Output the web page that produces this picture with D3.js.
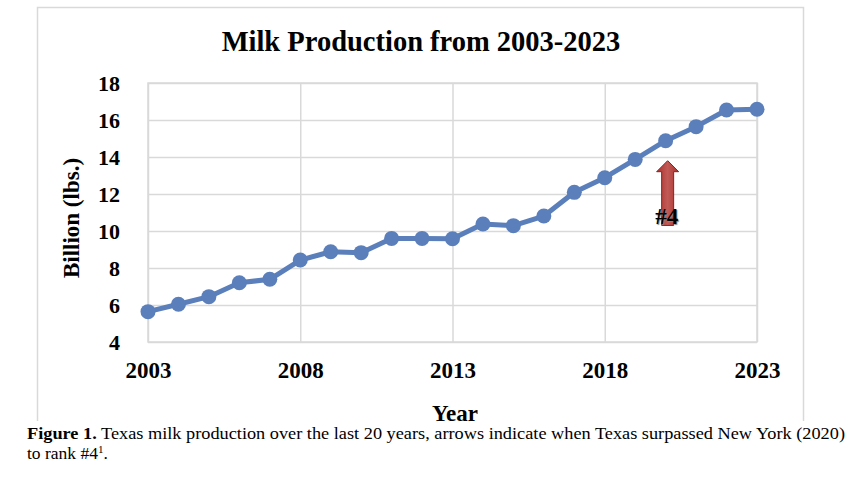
<!DOCTYPE html>
<html>
<head>
<meta charset="utf-8">
<title>Milk Production from 2003-2023</title>
<script src="https://d3js.org/d3.v7.min.js"></script>
<style>
  body { margin: 0; background: #fff; }
  svg { display: block; font-family: "Liberation Serif", "Times New Roman", serif; }
</style>
</head>
<body>
<div id="chart"></div>
<script>
// data (billion lbs)
var years = [2003, 2004, 2005, 2006, 2007, 2008, 2009, 2010, 2011, 2012, 2013,
             2014, 2015, 2016, 2017, 2018, 2019, 2020, 2021, 2022, 2023];
var production = [5.64, 6.04, 6.45, 7.2, 7.39, 8.43, 8.88, 8.83, 9.6, 9.6, 9.58,
                  10.38, 10.29, 10.81, 12.09, 12.88, 13.87, 14.88, 15.64, 16.54, 16.58];
var xTicks = [2003, 2008, 2013, 2018, 2023];
var yTicks = [4, 6, 8, 10, 12, 14, 16, 18];

// arrow annotation: year and its span in billion lbs
var arrowYear = 2020;
var arrowSpan = [13.8, 10.3];
var arrowLabel = "#4";

var size = {width: 864, height: 478};
var plot = {left: 148, right: 757, top: 83, bottom: 342};

var svg = d3.select("#chart").append("svg")
    .attr("width", size.width)
    .attr("height", size.height);

// outer chart frame
svg.append("rect")
    .attr("x", 37.5).attr("y", 7.5)
    .attr("width", 766).attr("height", 430)
    .attr("fill", "#fff")
    .attr("stroke", "#d9d9d9")
    .attr("stroke-width", 1.5);

var x = d3.scaleLinear().domain([2003, 2023]).range([plot.left, plot.right]);
var y = d3.scaleLinear().domain([4, 18]).range([plot.bottom, plot.top]);

// grid lines
svg.append("g")
    .attr("transform", "translate(0," + plot.bottom + ")")
    .call(d3.axisBottom(x).tickValues(xTicks).tickSize(-(plot.bottom - plot.top)).tickFormat(""))
    .call(g => g.select(".domain").remove())
    .selectAll("line").attr("stroke", "#d9d9d9").attr("stroke-width", 1.5);

svg.append("g")
    .attr("transform", "translate(" + plot.left + ",0)")
    .call(d3.axisLeft(y).tickValues(yTicks).tickSize(-(plot.right - plot.left)).tickFormat(""))
    .call(g => g.select(".domain").remove())
    .selectAll("line").attr("stroke", "#d9d9d9").attr("stroke-width", 1.5);

svg.append("rect")
    .attr("x", plot.left).attr("y", plot.top)
    .attr("width", plot.right - plot.left).attr("height", plot.bottom - plot.top)
    .attr("fill", "none").attr("stroke", "#d9d9d9").attr("stroke-width", 1.5);

// tick labels
var xAxis = svg.append("g")
    .attr("transform", "translate(0," + plot.bottom + ")")
    .call(d3.axisBottom(x).tickValues(xTicks).tickSize(0).tickPadding(20).tickFormat(d3.format("d")));
xAxis.select(".domain").remove();
xAxis.selectAll("text")
    .attr("font-family", "Liberation Serif, serif")
    .attr("font-size", 23).attr("font-weight", "bold").attr("fill", "#000");

var yAxis = svg.append("g")
    .attr("transform", "translate(" + plot.left + ",0)")
    .call(d3.axisLeft(y).tickValues(yTicks).tickSize(0).tickPadding(28));
yAxis.select(".domain").remove();
yAxis.selectAll("text")
    .attr("font-family", "Liberation Serif, serif")
    .attr("font-size", 22).attr("font-weight", "bold").attr("fill", "#000");

// line + markers
var points = years.map((yr, i) => ({year: yr, value: production[i]}));

svg.append("path")
    .datum(points)
    .attr("fill", "none")
    .attr("stroke", "#5a7fbb")
    .attr("stroke-width", 5)
    .attr("stroke-linejoin", "round")
    .attr("d", d3.line().x(d => x(d.year)).y(d => y(d.value)));

svg.append("g").selectAll("circle")
    .data(points)
    .enter()
    .append("circle")
    .attr("cx", d => x(d.year))
    .attr("cy", d => y(d.value))
    .attr("r", 7.5)
    .attr("fill", "#5a7fbb");

// red arrow
var grad = svg.append("defs").append("linearGradient")
    .attr("id", "arrowFill").attr("x1", "0%").attr("x2", "100%");
grad.append("stop").attr("offset", "0%").attr("stop-color", "#a8302d");
grad.append("stop").attr("offset", "50%").attr("stop-color", "#c25a56");
grad.append("stop").attr("offset", "100%").attr("stop-color", "#a8302d");

var ax = x(arrowYear) + 2;
var aTop = y(arrowSpan[0]);
var aBottom = y(arrowSpan[1]);
var headH = 11, headW = 11, shaftW = 6;
svg.append("path")
    .attr("d", "M" + ax + "," + aTop +
        " L" + (ax + headW) + "," + (aTop + headH) +
        " L" + (ax + shaftW) + "," + (aTop + headH) +
        " L" + (ax + shaftW) + "," + aBottom +
        " L" + (ax - shaftW) + "," + aBottom +
        " L" + (ax - shaftW) + "," + (aTop + headH) +
        " L" + (ax - headW) + "," + (aTop + headH) + " Z")
    .attr("fill", "url(#arrowFill)")
    .attr("stroke", "#8e1f1c")
    .attr("stroke-width", 1);

svg.append("text")
    .attr("x", ax - 1).attr("y", aBottom - 1)
    .attr("text-anchor", "middle")
    .attr("font-size", 23).attr("font-weight", "bold")
    .attr("fill", "#000")
    .style("text-shadow", "1px 1px 1px #888")
    .text(arrowLabel);

// titles
svg.append("text")
    .attr("x", 421).attr("y", 51)
    .attr("text-anchor", "middle")
    .attr("font-size", 28.5).attr("font-weight", "bold")
    .text("Milk Production from 2003-2023");

svg.append("text")
    .attr("transform", "translate(79,218) rotate(-90)")
    .attr("text-anchor", "middle")
    .attr("font-size", 23).attr("font-weight", "bold")
    .text("Billion (lbs.)");

svg.append("text")
    .attr("x", 455).attr("y", 421)
    .attr("text-anchor", "middle")
    .attr("font-size", 23).attr("font-weight", "bold")
    .text("Year");

// caption block sits over the bottom of the chart frame
svg.append("rect")
    .attr("x", 0).attr("y", 421)
    .attr("width", size.width).attr("height", size.height - 421)
    .attr("fill", "#fff");

var cap1 = svg.append("text").attr("x", 27).attr("y", 439).attr("font-size", 17.5)
    .attr("textLength", 818).attr("lengthAdjust", "spacingAndGlyphs");
cap1.append("tspan").attr("font-weight", "bold").text("Figure 1.");
cap1.append("tspan").text(" Texas milk production over the last 20 years, arrows indicate when Texas surpassed New York (2020)");

var cap2 = svg.append("text").attr("x", 27).attr("y", 459).attr("font-size", 17.5);
cap2.append("tspan").text("to rank #4");
cap2.append("tspan").attr("font-size", 11).attr("dy", -6).text("1");
cap2.append("tspan").attr("dy", 6).text(".");
</script>
</body>
</html>
